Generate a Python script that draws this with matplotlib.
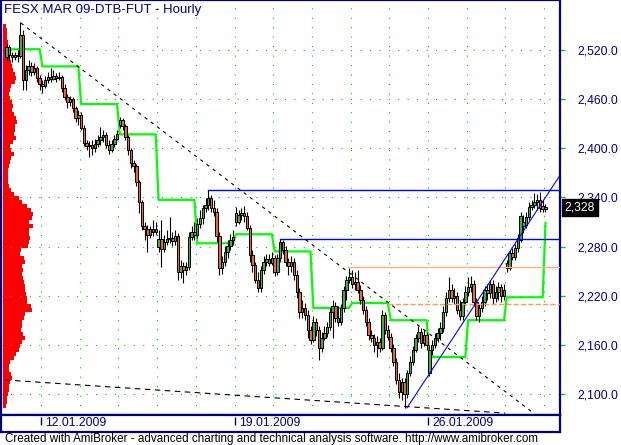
import matplotlib
matplotlib.use("Agg")
import matplotlib.pyplot as plt
import numpy as np

plt.rcParams["font.family"] = ["Liberation Sans", "DejaVu Sans"]

NAVY = "#000080"
GRID = "#00cc00"

title = "FESX MAR 09-DTB-FUT - Hourly"
footer = ("Created with AmiBroker - advanced charting and technical analysis "
          "software. http://www.amibroker.com")

# trading days and hourly bars per day
day_names = ["09.01.2009", "12.01.2009", "13.01.2009", "14.01.2009", "15.01.2009",
             "16.01.2009", "19.01.2009", "20.01.2009", "21.01.2009", "22.01.2009",
             "23.01.2009", "26.01.2009", "27.01.2009", "28.01.2009", "29.01.2009"]
bars_per_day = [13, 14, 14, 14, 14, 14, 14, 14, 14, 14, 14, 14, 14, 14, 1]
labeled_days = ["12.01.2009", "19.01.2009", "26.01.2009"]

opens = [
    2511, 2524, 2514, 2511, 2514, 2513, 2538, 2483, 2496, 2500, 2493, 2498, 2486,
    2478, 2476, 2483, 2487, 2485, 2488, 2486, 2487, 2474, 2463, 2456, 2460, 2449, 2437,
    2441, 2425, 2406, 2403, 2404, 2400, 2405, 2410, 2414, 2416, 2404, 2398, 2405, 2411,
    2428, 2434, 2427, 2414, 2398, 2382, 2378, 2359, 2334, 2305, 2301, 2294, 2301, 2298,
    2279, 2289, 2277, 2285, 2289, 2290, 2287, 2293, 2249, 2256, 2251, 2255, 2292, 2298,
    2294, 2307, 2315, 2327, 2331, 2339, 2327, 2322, 2293, 2254, 2261, 2273, 2281, 2288,
    2321, 2310, 2318, 2321, 2317, 2303, 2270, 2257, 2239, 2229, 2251, 2261, 2265, 2260,
    2266, 2249, 2266, 2285, 2276, 2261, 2256, 2261, 2245, 2224, 2200, 2205, 2196, 2178,
    2166, 2188, 2178, 2156, 2168, 2174, 2182, 2200, 2207, 2193, 2188, 2205, 2227, 2239,
    2243, 2234, 2237, 2227, 2215, 2202, 2188, 2172, 2168, 2160, 2163, 2156, 2196, 2178,
    2169, 2156, 2139, 2117, 2102, 2114, 2100, 2126, 2139, 2154, 2168, 2176, 2162, 2172,
    2126, 2154, 2160, 2168, 2174, 2180, 2200, 2217, 2227, 2217, 2220, 2202, 2195, 2212,
    2224, 2230, 2234, 2212, 2195, 2205, 2212, 2227, 2223, 2234, 2217, 2224, 2230, 2220,
    2260, 2254, 2272, 2267, 2278, 2288, 2305, 2306, 2316, 2328, 2331, 2334, 2337, 2329,
    2326,
]
highs = [
    2527, 2526, 2518, 2518, 2520, 2554, 2544, 2502, 2508, 2505, 2504, 2500, 2489,
    2483, 2488, 2493, 2498, 2496, 2492, 2493, 2489, 2478, 2466, 2464, 2463, 2452, 2447,
    2444, 2428, 2410, 2409, 2410, 2411, 2416, 2426, 2422, 2420, 2410, 2410, 2416, 2422,
    2438, 2437, 2430, 2416, 2400, 2386, 2381, 2361, 2337, 2310, 2306, 2305, 2312, 2310,
    2300, 2312, 2294, 2300, 2316, 2298, 2300, 2296, 2263, 2261, 2261, 2298, 2305, 2310,
    2315, 2325, 2331, 2339, 2349, 2343, 2337, 2327, 2298, 2268, 2281, 2288, 2295, 2300,
    2328, 2325, 2327, 2329, 2322, 2306, 2276, 2261, 2249, 2256, 2268, 2271, 2271, 2273,
    2270, 2271, 2289, 2288, 2281, 2266, 2268, 2266, 2251, 2229, 2215, 2211, 2202, 2183,
    2195, 2193, 2183, 2176, 2183, 2188, 2205, 2215, 2212, 2207, 2210, 2232, 2244, 2254,
    2251, 2249, 2251, 2233, 2220, 2207, 2193, 2178, 2173, 2171, 2168, 2202, 2200, 2184,
    2174, 2161, 2144, 2126, 2119, 2119, 2129, 2146, 2158, 2173, 2183, 2180, 2178, 2176,
    2160, 2166, 2174, 2180, 2188, 2207, 2224, 2243, 2234, 2229, 2224, 2215, 2217, 2232,
    2243, 2244, 2239, 2217, 2210, 2220, 2232, 2234, 2239, 2239, 2232, 2237, 2234, 2234,
    2263, 2276, 2278, 2283, 2295, 2322, 2318, 2322, 2334, 2337, 2345, 2344, 2347, 2337,
    2332,
]
lows = [
    2508, 2508, 2505, 2508, 2505, 2510, 2471, 2471, 2489, 2488, 2489, 2481, 2471,
    2467, 2474, 2480, 2481, 2483, 2481, 2483, 2469, 2459, 2449, 2452, 2444, 2432, 2428,
    2422, 2403, 2398, 2389, 2392, 2395, 2401, 2404, 2408, 2400, 2393, 2395, 2401, 2410,
    2425, 2422, 2410, 2392, 2376, 2371, 2354, 2321, 2300, 2288, 2273, 2290, 2293, 2294,
    2273, 2255, 2273, 2282, 2284, 2281, 2282, 2239, 2241, 2235, 2245, 2251, 2288, 2288,
    2290, 2303, 2307, 2322, 2325, 2322, 2317, 2285, 2245, 2246, 2256, 2266, 2276, 2282,
    2305, 2307, 2312, 2310, 2300, 2261, 2249, 2235, 2224, 2224, 2246, 2256, 2256, 2257,
    2244, 2245, 2261, 2271, 2256, 2245, 2249, 2239, 2217, 2193, 2193, 2190, 2168, 2161,
    2163, 2171, 2141, 2151, 2166, 2169, 2178, 2168, 2188, 2183, 2184, 2200, 2215, 2235,
    2229, 2227, 2223, 2210, 2198, 2183, 2166, 2163, 2151, 2145, 2151, 2154, 2173, 2166,
    2151, 2134, 2112, 2095, 2092, 2083, 2095, 2122, 2135, 2151, 2163, 2156, 2158, 2154,
    2122, 2147, 2156, 2163, 2166, 2176, 2195, 2212, 2212, 2210, 2198, 2190, 2190, 2208,
    2220, 2224, 2207, 2190, 2188, 2200, 2207, 2215, 2217, 2210, 2212, 2215, 2212, 2215,
    2249, 2251, 2263, 2263, 2273, 2285, 2296, 2303, 2312, 2325, 2327, 2325, 2322, 2322,
    2322,
]
closes = [
    2524, 2514, 2511, 2514, 2513, 2538, 2483, 2496, 2500, 2493, 2498, 2486, 2478,
    2476, 2483, 2487, 2485, 2488, 2486, 2487, 2474, 2463, 2456, 2460, 2449, 2437, 2441,
    2425, 2406, 2403, 2404, 2400, 2405, 2410, 2414, 2416, 2404, 2398, 2405, 2411, 2417,
    2434, 2427, 2414, 2398, 2382, 2378, 2359, 2334, 2305, 2301, 2294, 2301, 2298, 2301,
    2289, 2277, 2285, 2289, 2290, 2287, 2293, 2249, 2256, 2251, 2255, 2292, 2298, 2294,
    2307, 2315, 2327, 2331, 2339, 2327, 2322, 2293, 2254, 2261, 2273, 2281, 2288, 2292,
    2310, 2318, 2321, 2317, 2303, 2270, 2257, 2239, 2229, 2251, 2261, 2265, 2260, 2266,
    2249, 2266, 2285, 2276, 2261, 2256, 2261, 2245, 2224, 2200, 2205, 2196, 2178, 2166,
    2188, 2178, 2156, 2168, 2174, 2182, 2200, 2207, 2193, 2188, 2205, 2227, 2239, 2243,
    2234, 2237, 2227, 2215, 2202, 2188, 2172, 2168, 2160, 2163, 2156, 2196, 2178, 2169,
    2156, 2139, 2117, 2102, 2114, 2100, 2126, 2139, 2154, 2168, 2176, 2162, 2172, 2160,
    2154, 2160, 2168, 2174, 2180, 2200, 2217, 2227, 2217, 2220, 2202, 2195, 2212, 2224,
    2230, 2234, 2212, 2195, 2205, 2212, 2227, 2223, 2234, 2217, 2224, 2230, 2220, 2227,
    2254, 2272, 2267, 2278, 2290, 2317, 2310, 2316, 2328, 2331, 2334, 2337, 2327, 2326,
    2328,
]

# daily stop level (green step line), one value per day
green_levels = [2521, 2500, 2454, 2417, 2337, 2284, 2295, 2274, 2205, 2211,
                2190, 2145, 2190, 2218, 2309]

# volume at price, top bin first, between vap_high and vap_low
vap_high, vap_low = 2552, 2083
vap_volume = [3, 4, 4, 4, 5, 5, 6, 7, 7, 8, 9, 10, 12, 13, 12, 8, 7, 6, 7, 9,
              10, 9, 11, 13, 14, 12, 12, 11, 13, 10, 7, 8, 11, 8, 7, 6, 5, 5, 5, 5,
              6, 8, 11, 16, 19, 24, 28, 30, 29, 26, 30, 26, 26, 27, 26, 25, 18, 17, 21, 22,
              19, 20, 19, 20, 21, 22, 22, 23, 24, 24, 28, 29, 22, 21, 19, 19, 18, 20, 22, 19,
              17, 16, 13, 11, 7, 6, 6, 8, 9, 7, 6, 6, 5, 4, 4, 3]

# horizontal levels: price, bar where the level starts
level_prices = [2349, 2289, 2255, 2210]
level_start = [73, 99, 123.6, 138]
level_colors = ["#0000ff", "#0000ff", "#ffb080", "#ff9955"]
level_styles = ["-", "-", "-", "--"]

# trend lines: two anchor points each (bar, price)
upper_trend = [(5.2, 2553), (190.5, 2077)]
lower_trend = [(-0.5, 2117), (180.4, 2076.5)]
up_trend = [(144.9, 2083), (195, 2340)]

y_ticks = [2100, 2160, 2220, 2280, 2340, 2400, 2460, 2520]

# ---------------------------------------------------------------------------
W, H = 621, 445
px_bar = 2.764
x0_px = 6.5
xmin = (1 - x0_px) / px_bar
xmax = (560 - x0_px) / px_bar
ymin, ymax = 2074.2, 2581.1

fig = plt.figure(figsize=(W / 100, H / 100), dpi=100)
ax = fig.add_axes([1 / W, 30 / H, 559 / W, 415 / H])
ax.set_xlim(xmin, xmax)
ax.set_ylim(ymin, ymax)

n = len(closes)
x = np.arange(n)
o = np.array(opens, float)
c = np.array(closes, float)
hi = np.array(highs, float)
lo = np.array(lows, float)
day_start = np.concatenate([[0], np.cumsum(bars_per_day)[:-1]])

# volume-at-price histogram
edges = np.linspace(vap_high, vap_low, len(vap_volume) + 1)
centers = (edges[:-1] + edges[1:]) / 2
bin_h = abs(edges[1] - edges[0])
scale = (xmax - xmin) / 559
ax.barh(centers, np.array(vap_volume) * scale, height=bin_h, left=xmin + 2 * scale,
        color="#ff0000", linewidth=0, zorder=0.5)

# dotted grid
for yt in y_ticks:
    ax.axhline(yt, color=GRID, lw=0.8, ls=(0, (1, 7.5)), zorder=1)
for ds in day_start[1:]:
    ax.axvline(ds - 0.5, color=GRID, lw=0.8, ls=(0, (1, 7.5)), zorder=1)

# green step line
green = np.repeat(green_levels, bars_per_day).astype(float)
green[0] = np.nan
ax.plot(x, green, color="#00ff00", lw=1.6, zorder=2)

# candles
ax.vlines(x, lo, hi, color="black", lw=0.8, zorder=3)
up = c >= o
body_bottom = np.minimum(o, c)
body_h = np.maximum(np.abs(c - o), 0.8)
ax.bar(x[up], body_h[up], bottom=body_bottom[up], width=0.88, color="#3cb043",
       edgecolor="black", linewidth=0.7, zorder=4)
ax.bar(x[~up], body_h[~up], bottom=body_bottom[~up], width=0.88, color="#f5641e",
       edgecolor="black", linewidth=0.7, zorder=4)

# levels
for p, s, col, st in zip(level_prices, level_start, level_colors, level_styles):
    ax.plot([s, xmax], [p, p], color=col, lw=1.0, ls=st, zorder=5)


def draw_trend(pts, x_end, **kw):
    (xa, ya), (xb, yb) = pts
    slope = (yb - ya) / (xb - xa)
    ax.plot([xa, x_end], [ya, ya + slope * (x_end - xa)], **kw)


draw_trend(upper_trend, upper_trend[1][0], color="black", lw=0.8, ls=(0, (3, 4)), zorder=5)
draw_trend(lower_trend, lower_trend[1][0], color="black", lw=0.8, ls=(0, (5, 4)), zorder=5)
draw_trend(up_trend, xmax, color="#0000ff", lw=0.8, zorder=5)

# axes styling
for side in ["left", "right", "top", "bottom"]:
    ax.spines[side].set_color(NAVY)
    ax.spines[side].set_linewidth(1.6)
ax.set_xticks([])
ax.yaxis.tick_right()
ax.set_yticks(y_ticks)
ax.set_yticklabels([f"{v:,.1f}" for v in y_ticks])
ax.tick_params(axis="y", direction="out", length=3.6, width=1, color=GRID,
               labelcolor=NAVY, labelsize=8.7, pad=9)

# last price marker
ax.annotate(f"{closes[-1]:,}", xy=(1, closes[-1]), xycoords=("axes fraction", "data"),
            xytext=(3.5, 0), textcoords="offset points", va="center", ha="left",
            color="white", fontsize=8.7, zorder=10,
            bbox=dict(boxstyle="square,pad=0.2", fc="black", ec="black"))

# date strip
axd = fig.add_axes([1 / W, 13 / H, 559 / W, 17 / H])
axd.set_xlim(xmin, xmax)
axd.set_ylim(0, 1)
axd.set_xticks([])
axd.set_yticks([])
for side in ["left", "right", "top", "bottom"]:
    axd.spines[side].set_color(NAVY)
    axd.spines[side].set_linewidth(1.6)
for name in labeled_days:
    xs = day_start[day_names.index(name)] - 0.5
    axd.vlines(xs, 0.42, 0.88, color=NAVY, lw=1)
    axd.text(xs + 1.6, 0.5, name, color=NAVY, fontsize=8.8, va="center", ha="left")

fig.text(4 / W, 1 - 10 / H, title, color=NAVY, fontsize=9.5, va="center", ha="left")
fig.text(5 / W, 1 - 439 / H, footer, color="black", fontsize=8.4, va="center", ha="left")

fig.savefig("out.png", dpi=100)
plt.close(fig)
